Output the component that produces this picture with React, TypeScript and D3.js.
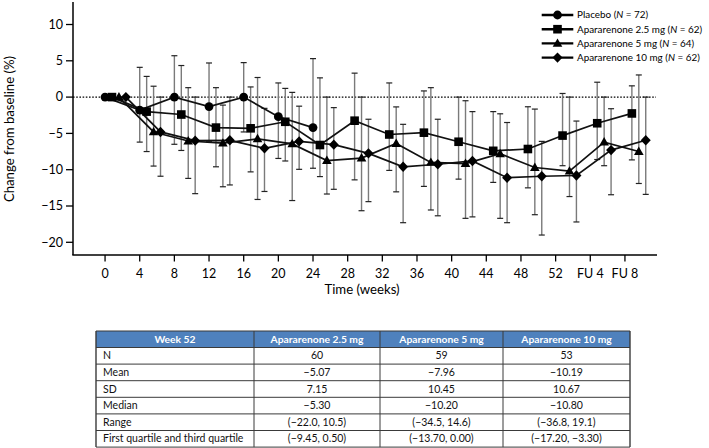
import React from 'react';
import * as d3 from 'd3';

// ---------- data ----------
const xTickWeeks = [0, 4, 8, 12, 16, 20, 24, 28, 32, 36, 40, 44, 48, 52, 56, 60];
const xTickLabels = ['0', '4', '8', '12', '16', '20', '24', '28', '32', '36', '40', '44', '48', '52', 'FU 4', 'FU 8'];
const yTicks = [10, 5, 0, -5, -10, -15, -20];

const groupNames = ['Placebo', 'Apararenone 2.5 mg', 'Apararenone 5 mg', 'Apararenone 10 mg'];
const groupN = [72, 62, 64, 62];
const groupOffsets = [0, 0.8, 1.6, 2.4];

const placeboWeeks = [0, 4, 8, 12, 16, 20, 24];
const placeboMedian = [0, -1.8, 0, -1.3, 0, -2.7, -4.2];
const placeboQ1 = [0, -6.2, -6.5, -6.15, -4.8, -8.45, -9.8];
const placeboQ3 = [0, 4.1, 5.7, 4.7, 4.75, 1.95, 5.3];

const activeWeeks = [0, 4, 8, 12, 16, 20, 24, 28, 32, 36, 40, 44, 48, 52, 56, 60];

const dose25Median = [0, -2.0, -2.4, -4.2, -4.3, -3.4, -6.6, -3.25, -5.15, -4.9, -6.15, -7.4, -7.15, -5.3, -3.6, -2.25];
const dose25Q1 = [0, -7.5, -7.35, -9.6, -10.3, -8.8, -10.95, -11.4, -10.1, -12.3, -11.3, -11.75, -12.5, -9.45, -8.6, -8.65];
const dose25Q3 = [0, 2.85, 4.35, 1.3, 1.4, 1.2, 2.65, 3.3, 1.95, 0.85, 0, -2.0, -1.33, 0.5, 2.05, 1.55];

const dose5Median = [0, -4.8, -6.05, -6.35, -5.75, -6.45, -8.75, -8.4, -6.4, -9.0, -9.15, -7.8, -9.7, -10.2, -6.2, -7.5];
const dose5Q1 = [0, -9.5, -11.2, -12.35, -14.1, -14.25, -13.35, -15.65, -13.05, -15.55, -16.7, -16.7, -16.2, -13.7, -9.45, -11.9];
const dose5Q3 = [0, 1.5, 1.3, -1.1, 2.7, 0.65, 0, 0, -1.35, 1.3, -0.5, -2.3, -1.65, 0, 0, 3.05];

const dose10Median = [0, -4.8, -6.0, -5.95, -7.05, -6.1, -6.55, -7.75, -9.6, -9.25, -8.8, -11.1, -10.9, -10.8, -7.3, -5.95];
const dose10Q1 = [0, -10.9, -13.3, -12.1, -13.0, -9.95, -12.7, -14.4, -17.3, -16.35, -16.5, -17.3, -19.0, -17.2, -13.45, -13.4];
const dose10Q3 = [0, 0, 0, 0, -1.55, -1.25, -1.45, -3.05, -3.75, -3.05, -2.0, -3.5, -6.1, -3.3, -1.6, 0];

const tableHeader = ['Week 52', 'Apararenone 2.5 mg', 'Apararenone 5 mg', 'Apararenone 10 mg'];
const tableRowLabels = ['N', 'Mean', 'SD', 'Median', 'Range', 'First quartile and third quartile'];
const tableDose25 = ['60', '\u22125.07', '7.15', '\u22125.30', '(\u221222.0, 10.5)', '(\u22129.45, 0.50)'];
const tableDose5 = ['59', '\u22127.96', '10.45', '\u221210.20', '(\u221234.5, 14.6)', '(\u221213.70, 0.00)'];
const tableDose10 = ['53', '\u221210.19', '10.67', '\u221210.80', '(\u221236.8, 19.1)', '(\u221217.20, \u22123.30)'];

// ---------- layout ----------
const W = 709;
const H = 448;
const FONT = 'Lato, "Open Sans", sans-serif';

const x = d3.scaleLinear().domain([-3.7, 63.7]).range([73, 657]);
const y = d3.scaleLinear().domain([-21.75, 13.1]).range([255, 2]);

type Group = { weeks: number[]; med: number[]; q1: number[]; q3: number[]; shape: string };

const groups: Group[] = [
  { weeks: placeboWeeks, med: placeboMedian, q1: placeboQ1, q3: placeboQ3, shape: 'circle' },
  { weeks: activeWeeks, med: dose25Median, q1: dose25Q1, q3: dose25Q3, shape: 'square' },
  { weeks: activeWeeks, med: dose5Median, q1: dose5Q1, q3: dose5Q3, shape: 'triangle' },
  { weeks: activeWeeks, med: dose10Median, q1: dose10Q1, q3: dose10Q3, shape: 'diamond' },
];

function Marker({ shape, cx, cy }: { shape: string; cx: number; cy: number }) {
  if (shape === 'circle') return <circle cx={cx} cy={cy} r={4.4} fill="#000" />;
  if (shape === 'square') return <rect x={cx - 4.3} y={cy - 4.3} width={8.6} height={8.6} fill="#000" />;
  if (shape === 'triangle')
    return <path d={`M${cx},${cy - 5} L${cx + 4.8},${cy + 3.4} L${cx - 4.8},${cy + 3.4} Z`} fill="#000" />;
  return <path d={`M${cx},${cy - 5.2} L${cx + 5},${cy} L${cx},${cy + 5.2} L${cx - 5},${cy} Z`} fill="#000" />;
}

const line = d3
  .line<[number, number]>()
  .x((d) => d[0])
  .y((d) => d[1]);

export default function App() {
  const tableX = [96, 254, 380, 503, 630];
  const headerTop = 331;
  const headerH = 16.5;
  const rowH = 16.6;
  const tableCols = [tableDose25, tableDose5, tableDose10];

  return (
    <svg
      width={W}
      height={H}
      style={{ position: 'absolute', left: 0, top: 0, background: '#fff' }}
      fontFamily={FONT}
    >
      {/* y axis */}
      <line x1={73} x2={73} y1={y(13.1)} y2={255} stroke="#000" strokeWidth={1.5} />
      {yTicks.map((t) => (
        <g key={'yt' + t}>
          <line x1={66} x2={73} y1={y(t)} y2={y(t)} stroke="#000" strokeWidth={1.3} />
          <text x={63} y={y(t)} dy="0.35em" textAnchor="end" fontSize={12.5} fill="#000">
            {t < 0 ? '\u2212' + Math.abs(t) : String(t)}
          </text>
        </g>
      ))}
      <text
        transform={`translate(14,129) rotate(-90)`}
        textAnchor="middle"
        fontSize={13.2}
        fill="#000"
      >
        Change from baseline (%)
      </text>

      {/* x axis */}
      <line x1={72.3} x2={657} y1={255} y2={255} stroke="#000" strokeWidth={1.5} />
      {xTickWeeks.map((w, i) => (
        <g key={'xt' + w}>
          <line x1={x(w)} x2={x(w)} y1={255} y2={261.5} stroke="#000" strokeWidth={1.3} />
          <text x={x(w)} y={278} textAnchor="middle" fontSize={12.5} fill="#000">
            {xTickLabels[i]}
          </text>
        </g>
      ))}
      <text x={362} y={294} textAnchor="middle" fontSize={13.2} fill="#000">
        Time (weeks)
      </text>

      {/* zero reference */}
      <line x1={73} x2={656} y1={y(0)} y2={y(0)} stroke="#000" strokeWidth={1.3} strokeDasharray="1.6,1.6" />

      {/* error bars */}
      {groups.map((g, gi) =>
        g.weeks.map((w, i) => {
          if (g.q1[i] === g.q3[i]) return null;
          const cx = x(w + groupOffsets[gi]);
          return (
            <g key={`eb${gi}-${i}`}>
              <line x1={cx} x2={cx} y1={y(g.q3[i])} y2={y(g.q1[i])} stroke="#7a7a7a" strokeWidth={1.4} />
              <line x1={cx - 3} x2={cx + 3} y1={y(g.q3[i])} y2={y(g.q3[i])} stroke="#222" strokeWidth={1.2} />
              <line x1={cx - 3} x2={cx + 3} y1={y(g.q1[i])} y2={y(g.q1[i])} stroke="#222" strokeWidth={1.2} />
            </g>
          );
        })
      )}

      {/* lines */}
      {groups.map((g, gi) => (
        <path
          key={'ln' + gi}
          d={line(g.weeks.map((w, i) => [x(w + groupOffsets[gi]), y(g.med[i])]) as [number, number][]) || ''}
          fill="none"
          stroke="#111"
          strokeWidth={1.7}
        />
      ))}

      {/* markers */}
      {groups.map((g, gi) =>
        g.weeks.map((w, i) => (
          <Marker key={`mk${gi}-${i}`} shape={g.shape} cx={x(w + groupOffsets[gi])} cy={y(g.med[i])} />
        ))
      )}

      {/* legend */}
      {groupNames.map((name, i) => {
        const ly = 15 + i * 14.2;
        return (
          <g key={'lg' + i}>
            <line x1={541.7} x2={573.3} y1={ly} y2={ly} stroke="#000" strokeWidth={2.4} />
            <Marker shape={groups[i].shape} cx={557.5} cy={ly} />
            <text x={577} y={ly} dy="0.35em" fontSize={9.9} fill="#000">
              {name} (<tspan fontStyle="italic">N</tspan> = {groupN[i]})
            </text>
          </g>
        );
      })}

      {/* table */}
      <rect x={tableX[0]} y={headerTop} width={tableX[4] - tableX[0]} height={headerH} fill="#4f81bd" />
      {tableHeader.map((h, i) => (
        <text
          key={'th' + i}
          x={(tableX[i] + tableX[i + 1]) / 2}
          y={headerTop + headerH / 2}
          dy="0.35em"
          textAnchor="middle"
          fontSize={10.3}
          fontWeight="bold"
          fill="#fff"
        >
          {h}
        </text>
      ))}
      {tableRowLabels.map((lab, r) => {
        const ry = headerTop + headerH + r * rowH;
        return (
          <g key={'tr' + r}>
            <text x={tableX[0] + 7} y={ry + rowH / 2} dy="0.35em" fontSize={10.5} fill="#111">
              {lab}
            </text>
            {tableCols.map((col, c) => (
              <text
                key={'td' + c}
                x={(tableX[c + 1] + tableX[c + 2]) / 2}
                y={ry + rowH / 2}
                dy="0.35em"
                textAnchor="middle"
                fontSize={10.5}
                fill="#111"
              >
                {col[r]}
              </text>
            ))}
          </g>
        );
      })}
      {/* table grid */}
      {d3.range(tableRowLabels.length + 2).map((r) => {
        const gy = r === 0 ? headerTop : headerTop + headerH + (r - 1) * rowH;
        return (
          <line key={'hg' + r} x1={tableX[0]} x2={tableX[4]} y1={gy} y2={gy} stroke="#3a3a3a" strokeWidth={1} />
        );
      })}
      {tableX.map((tx, i) => (
        <line
          key={'vg' + i}
          x1={tx}
          x2={tx}
          y1={headerTop}
          y2={headerTop + headerH + tableRowLabels.length * rowH}
          stroke="#3a3a3a"
          strokeWidth={i === 0 || i === 4 ? 1.4 : 1}
        />
      ))}
    </svg>
  );
}
